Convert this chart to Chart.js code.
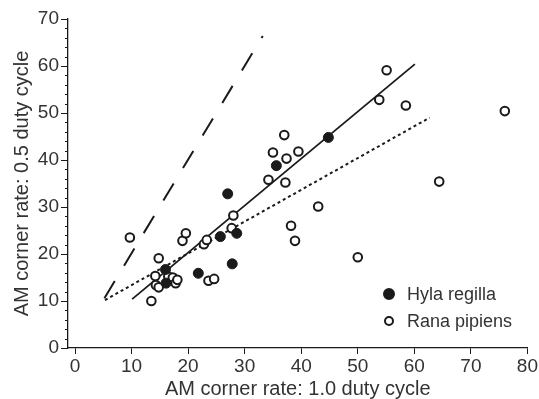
<!DOCTYPE html>
<html>
<head>
<meta charset="utf-8">
<script src="https://cdn.jsdelivr.net/npm/chart.js@4"></script>
<style>
  html, body { margin: 0; padding: 0; background: #fff; }
  #wrap { width: 539px; height: 399px; }
</style>
</head>
<body>
<div id="wrap"><canvas id="myChart" width="539" height="399"></canvas></div>
<script>
// data
const hylaX = [16.0, 16.1, 21.8, 25.7, 27.0, 28.6, 27.8, 35.6, 44.8]
const hylaY = [16.7, 13.8, 15.9, 23.7, 32.8, 24.4, 17.9, 38.8, 44.8]

const ranaX = [9.7, 13.5, 14.2, 14.3, 14.8, 14.8, 16.5, 17.3, 17.8, 18.1, 19.0, 19.6, 22.8, 23.3, 23.6, 24.6, 27.7,
    28.0, 34.2, 35.0, 37.0, 37.2, 37.4, 38.2, 38.9, 39.5, 43.0, 50.0, 53.8, 55.1, 58.5, 64.4, 76.0]
const ranaY = [23.5, 10.0, 15.3, 13.4, 12.9, 19.1, 15.2, 15.0, 13.8, 14.5, 22.8, 24.4, 22.1, 23.0, 14.3, 14.7, 25.5,
    28.2, 35.8, 41.6, 45.3, 35.2, 40.3, 26.0, 22.8, 41.8, 30.1, 19.3, 52.8, 59.1, 51.6, 35.4, 50.4]

// fitted / reference lines (end points)
const solidX = [10.1, 60.1]
const solidY = [10.4, 60.4]
const dottedX = [5.3, 62.7]
const dottedY = [10.2, 49.0]
const dashedX = [5.2, 33.2]
const dashedY = [10.6, 66.4]

const xTicks = [0, 10, 20, 30, 40, 50, 60, 70, 80]
const yTicks = [0, 10, 20, 30, 40, 50, 60, 70]
const yMinorStep = 2

const toPts = (xs, ys) => xs.map((x, i) => ({ x: x, y: ys[i] }))
const ink = '#1a1a1a'
const textCol = '#333'
const family = '"Liberation Sans", Arial, sans-serif'

// small ticks between the labelled ones on the y axis
const minorTicks = {
    id: 'minorTicks',
    afterDraw(chart) {
        const s = chart.scales.y
        const c = chart.ctx
        c.save()
        c.strokeStyle = ink
        c.lineWidth = 1
        for (let v = yTicks[0]; v <= yTicks[yTicks.length - 1]; v += yMinorStep) {
            if (v % 10 === 0) continue
            const py = Math.round(s.getPixelForValue(v)) + 0.5
            c.beginPath()
            c.moveTo(s.right - 3, py)
            c.lineTo(s.right, py)
            c.stroke()
        }
        c.restore()
    }
}

// legend drawn inside the plot, bottom right
const innerLegend = {
    id: 'innerLegend',
    afterDraw(chart) {
        const c = chart.ctx
        const items = [chart.data.datasets[0], chart.data.datasets[1]]
        c.save()
        c.font = '18px ' + family
        c.textBaseline = 'middle'
        items.forEach((ds, i) => {
            const cx = 389, cy = 294 + i * 27
            c.beginPath()
            c.arc(cx, cy, i === 0 ? 5 : 4, 0, Math.PI * 2)
            c.fillStyle = ds.backgroundColor
            c.fill()
            c.lineWidth = 2
            c.strokeStyle = ink
            c.stroke()
            c.fillStyle = textCol
            c.fillText(ds.label, 407, cy + 1)
        })
        c.restore()
    }
}

const ctx = document.getElementById('myChart')

new Chart(ctx, {
    type: 'scatter',
    data: {
        datasets: [{
            label: 'Hyla regilla',
            data: toPts(hylaX, hylaY),
            backgroundColor: ink,
            borderColor: ink,
            borderWidth: 1,
            pointRadius: 5,
            order: 1
        }, {
            label: 'Rana pipiens',
            data: toPts(ranaX, ranaY),
            backgroundColor: '#fff',
            borderColor: ink,
            borderWidth: 2,
            pointRadius: 4.3,
            order: 2
        }, {
            label: 'solid',
            data: toPts(solidX, solidY),
            showLine: true,
            borderColor: ink,
            borderWidth: 1.8,
            pointRadius: 0,
            order: 3
        }, {
            label: 'dotted',
            data: toPts(dottedX, dottedY),
            showLine: true,
            borderColor: ink,
            borderWidth: 2,
            borderDash: [3, 3],
            pointRadius: 0,
            order: 3
        }, {
            label: 'dashed',
            data: toPts(dashedX, dashedY),
            showLine: true,
            borderColor: ink,
            borderWidth: 2,
            borderDash: [20, 18],
            pointRadius: 0,
            order: 3
        }]
    },
    options: {
        responsive: false,
        animation: false,
        layout: { padding: { top: 19, right: 10, left: 0, bottom: 0 } },
        plugins: {
            legend: { display: false },
            tooltip: { enabled: false }
        },
        scales: {
            x: {
                type: 'linear',
                min: -1.24,
                max: 80,
                afterBuildTicks: s => { s.ticks = xTicks.map(v => ({ value: v })) },
                afterFit: s => { s.height = 51 },
                border: { color: ink, width: 1.3 },
                grid: { drawOnChartArea: false, tickLength: 6, tickColor: ink },
                ticks: { color: textCol, padding: 1, font: { size: 19, family: family } },
                title: {
                    display: true,
                    text: 'AM corner rate: 1.0 duty cycle',
                    color: textCol,
                    padding: { top: 0, bottom: 0 },
                    font: { size: 20, family: family, lineHeight: 1 }
                }
            },
            y: {
                type: 'linear',
                min: 0,
                max: 70,
                afterBuildTicks: s => { s.ticks = yTicks.map(v => ({ value: v })) },
                afterFit: s => { s.width = 68 },
                border: { color: ink, width: 1.3 },
                grid: { drawOnChartArea: false, tickLength: 7, tickColor: ink },
                ticks: { color: textCol, padding: 2, font: { size: 19, family: family } },
                title: {
                    display: true,
                    text: 'AM corner rate: 0.5 duty cycle',
                    color: textCol,
                    padding: { top: 10, bottom: 0 },
                    font: { size: 20, family: family }
                }
            }
        }
    },
    plugins: [minorTicks, innerLegend]
})
</script>
</body>
</html>
